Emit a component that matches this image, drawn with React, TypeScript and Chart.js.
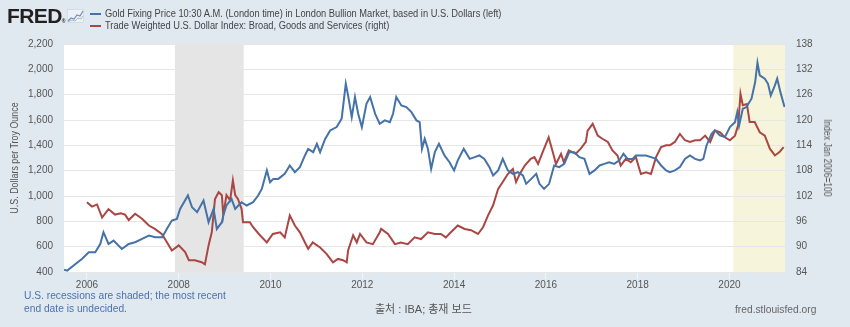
import React, { useEffect, useRef } from 'react';
import { Chart, registerables } from 'chart.js';

Chart.register(...registerables);

// ---------- DATA ----------
const goldYears = [
  2005.5, 2005.57, 2005.75, 2005.89, 2006.04, 2006.18, 2006.29, 2006.36, 2006.47, 2006.58,
  2006.76, 2006.91, 2007.05, 2007.2, 2007.35, 2007.49, 2007.64, 2007.74, 2007.85, 2007.96,
  2008.03, 2008.2, 2008.29, 2008.4, 2008.54, 2008.65, 2008.76, 2008.83, 2008.94, 2008.97,
  2009.04, 2009.15, 2009.23, 2009.3, 2009.37, 2009.48, 2009.62, 2009.73, 2009.81, 2009.92,
  2009.99, 2010.06, 2010.17, 2010.31, 2010.42, 2010.53, 2010.64, 2010.75, 2010.82, 2010.93,
  2011.01, 2011.08, 2011.19, 2011.3, 2011.44, 2011.55, 2011.64, 2011.69, 2011.77, 2011.84,
  2011.91, 2011.99, 2012.09, 2012.17, 2012.28, 2012.38, 2012.49, 2012.6, 2012.67, 2012.74,
  2012.85, 2012.96, 2013.07, 2013.18, 2013.25, 2013.3, 2013.36, 2013.43, 2013.5, 2013.58,
  2013.67, 2013.79, 2013.9, 2014.0, 2014.08, 2014.21, 2014.34, 2014.45, 2014.55, 2014.66,
  2014.77, 2014.85, 2014.96, 2015.06, 2015.17, 2015.28, 2015.39, 2015.5, 2015.57, 2015.68,
  2015.79, 2015.86, 2015.96, 2016.07, 2016.18, 2016.29, 2016.4, 2016.51, 2016.62, 2016.73,
  2016.84, 2016.95, 2017.06, 2017.17, 2017.27, 2017.38, 2017.49, 2017.6, 2017.69, 2017.78,
  2017.89, 2017.96, 2018.07, 2018.18, 2018.29, 2018.4, 2018.51, 2018.62, 2018.7, 2018.81,
  2018.92, 2019.03, 2019.14, 2019.25, 2019.36, 2019.43, 2019.5, 2019.61, 2019.68, 2019.79,
  2019.9, 2020.01, 2020.12, 2020.17, 2020.21, 2020.29, 2020.37, 2020.48, 2020.56, 2020.61,
  2020.66, 2020.77, 2020.84, 2020.9, 2020.99, 2021.04, 2021.11, 2021.2,
];
const goldValues = [
  418, 411, 463, 503, 556, 556, 621, 714, 621, 648,
  582, 621, 635, 661, 688, 674, 674, 740, 806, 819,
  898, 1004, 911, 872, 964, 793, 898, 740, 793, 846,
  925, 977, 898, 925, 951, 925, 951, 1004, 1056, 1202,
  1109, 1135, 1135, 1175, 1241, 1188, 1228, 1320, 1372, 1346,
  1412, 1346, 1451, 1518, 1544, 1610, 1886, 1794, 1623, 1781,
  1649, 1544, 1728, 1781, 1649, 1570, 1597, 1583, 1649, 1781,
  1715, 1702, 1662, 1597, 1583, 1372, 1451, 1372, 1214, 1346,
  1412, 1320, 1267, 1202, 1281, 1372, 1293, 1307, 1320, 1293,
  1228, 1162, 1202, 1293, 1202, 1175, 1188, 1162, 1096, 1135,
  1175, 1096, 1056, 1096, 1241, 1228, 1254, 1346, 1346, 1307,
  1293, 1175, 1202, 1241, 1254, 1267, 1254, 1281, 1333, 1293,
  1293, 1320, 1320, 1320, 1307, 1293, 1241, 1202, 1188, 1202,
  1228, 1293, 1320, 1293, 1281, 1293, 1399, 1491, 1518, 1478,
  1465, 1544, 1583, 1662, 1557, 1689, 1702, 1768, 1900, 2052,
  1953, 1926, 1886, 1794, 1873, 1926, 1820, 1702,
];

const dollarYears = [
  2006.0, 2006.11, 2006.22, 2006.33, 2006.47, 2006.61, 2006.74, 2006.83, 2006.91, 2007.05,
  2007.2, 2007.35, 2007.48, 2007.63, 2007.7, 2007.85, 2008.0, 2008.14, 2008.22, 2008.35,
  2008.5, 2008.57, 2008.65, 2008.72, 2008.79, 2008.87, 2008.94, 2008.97, 2009.04, 2009.12,
  2009.18, 2009.23, 2009.29, 2009.37, 2009.4, 2009.55, 2009.62, 2009.77, 2009.92, 2010.05,
  2010.21, 2010.31, 2010.42, 2010.53, 2010.64, 2010.75, 2010.82, 2010.92, 2011.08, 2011.22,
  2011.36, 2011.47, 2011.58, 2011.66, 2011.69, 2011.8, 2011.88, 2011.95, 2012.09, 2012.23,
  2012.38, 2012.41, 2012.56, 2012.71, 2012.84, 2012.99, 2013.14, 2013.28, 2013.43, 2013.58,
  2013.71, 2013.82, 2013.93, 2014.08, 2014.23, 2014.37, 2014.52, 2014.63, 2014.74, 2014.85,
  2014.96, 2015.06, 2015.17, 2015.28, 2015.35, 2015.43, 2015.54, 2015.67, 2015.75, 2015.83,
  2015.93, 2016.06, 2016.15, 2016.22, 2016.33, 2016.39, 2016.5, 2016.65, 2016.76, 2016.87,
  2016.91, 2017.02, 2017.13, 2017.24, 2017.35, 2017.45, 2017.56, 2017.63, 2017.74, 2017.85,
  2017.96, 2018.07, 2018.18, 2018.29, 2018.4, 2018.51, 2018.62, 2018.7, 2018.81, 2018.92,
  2019.03, 2019.14, 2019.25, 2019.36, 2019.47, 2019.58, 2019.68, 2019.79, 2019.9, 2020.01,
  2020.12, 2020.19, 2020.24, 2020.29, 2020.38, 2020.44, 2020.55, 2020.66, 2020.77, 2020.88,
  2020.99, 2021.09, 2021.18,
];
const dollarValues = [
  100.5, 99.5, 100, 96.9, 98.9, 97.6, 97.9, 97.6, 96.3, 97.8,
  96.6, 95, 94.2, 93, 91.8, 89.1, 90.3, 88.7, 86.8, 86.8,
  86.3, 85.8, 90.3, 93.4, 101.3, 102.9, 102.2, 97.4, 102.2, 101,
  105.7, 102.2, 101.3, 98.9, 95.8, 95.8, 94.6, 92.7, 91, 93,
  93.4, 92.2, 97.4, 95, 93.4, 91, 89.5, 91, 89.8, 88.3,
  86.3, 87.1, 86.8, 86.3, 89.1, 92.7, 91, 93, 91, 90.6,
  93.4, 94.2, 93, 90.6, 91, 90.6, 92.2, 91.8, 93.4, 93,
  93, 92.2, 93.4, 95, 94.2, 93.9, 93, 94.6, 97.4, 99.8,
  103.7, 105.3, 107.2, 108.4, 105.3, 107.2, 109.2, 110.8, 111.2, 109.6,
  112.4, 115.9, 112.4, 109.6, 112, 110, 112.8, 112, 113.2, 114.8,
  117.5, 119.1, 116.3, 115.5, 114.8, 112.8, 111.6, 109.2, 110.8, 110,
  111.2, 107.2, 107.6, 107.2, 111.2, 113.6, 114, 114, 114.8, 116.7,
  115.2, 114.8, 115.2, 115.2, 116.3, 114.8, 117.5, 117.1, 115.9, 115.2,
  116.3, 118.8, 126.2, 123.5, 123.8, 119.5, 119.5, 117.1, 116.3, 113.2,
  111.6, 112.4, 113.6,
];

const recessionStarts = [2007.917, 2020.083];
const recessionEnds: (number | null)[] = [2009.414, null]; // null = end date undecided

const xTickYears = [2006, 2008, 2010, 2012, 2014, 2016, 2018, 2020];
const leftTicks = [400, 600, 800, 1000, 1200, 1400, 1600, 1800, 2000, 2200];
const rightTicks = [84, 90, 96, 102, 108, 114, 120, 126, 132, 138];

const goldLabel = 'Gold Fixing Price 10:30 A.M. (London time) in London Bullion Market, based in U.S. Dollars (left)';
const dollarLabel = 'Trade Weighted U.S. Dollar Index: Broad, Goods and Services (right)';
const leftTitle = 'U.S. Dollars per Troy Ounce';
const rightTitle = 'Index Jan 2006=100';

// ---------- STYLE ----------
const SANS = '"Liberation Sans", Arial, sans-serif';
const BLUE = '#4572a7';
const RED = '#aa4643';
const PAGE_BG = '#e1e9f0';

const shadePlugin = {
  id: 'recessionShade',
  beforeDraw(chart: any) {
    const { ctx, chartArea: a, scales } = chart;
    const x = scales.x;
    ctx.save();
    ctx.fillStyle = '#ffffff';
    ctx.fillRect(a.left, a.top, a.right - a.left, a.bottom - a.top);
    recessionStarts.forEach((s, i) => {
      const end = recessionEnds[i];
      const x0 = Math.max(a.left, x.getPixelForValue(s));
      const x1 = end == null ? a.right : Math.min(a.right, x.getPixelForValue(end));
      ctx.fillStyle = end == null ? '#f6f5dc' : '#e5e5e5';
      ctx.fillRect(x0, a.top, x1 - x0, a.bottom - a.top);
    });
    ctx.restore();
  },
};

export default function App() {
  const canvasRef = useRef<HTMLCanvasElement | null>(null);

  useEffect(() => {
    if (!canvasRef.current) return;
    const gold = goldYears.map((t, i) => ({ x: t, y: goldValues[i] }));
    const dollar = dollarYears.map((t, i) => ({ x: t, y: dollarValues[i] }));
    const tickFont = { family: SANS, size: 10 };
    const chart = new Chart(canvasRef.current, {
      type: 'line',
      data: {
        datasets: [
          { label: goldLabel, data: gold, yAxisID: 'y', borderColor: BLUE, borderWidth: 2, pointRadius: 0, tension: 0 },
          { label: dollarLabel, data: dollar, yAxisID: 'y1', borderColor: RED, borderWidth: 2, pointRadius: 0, tension: 0 },
        ],
      },
      options: {
        responsive: false,
        animation: false,
        events: [],
        layout: { padding: { top: 44, bottom: 35, left: 0, right: 0 } },
        plugins: { legend: { display: false }, tooltip: { enabled: false } },
        scales: {
          x: {
            type: 'linear',
            min: 2005.5,
            max: 2021.21,
            afterBuildTicks: (s: any) => {
              s.ticks = xTickYears.map((v) => ({ value: v }));
            },
            afterFit: (s: any) => {
              s.height = 20;
            },
            border: { display: false },
            grid: { drawOnChartArea: false, drawTicks: true, tickLength: 7, color: '#f3f5f7', lineWidth: 1 },
            ticks: {
              autoSkip: false,
              maxRotation: 0,
              padding: 0,
              color: '#555',
              font: tickFont,
              callback: (v: any) => String(Math.round(Number(v))),
            },
          },
          y: {
            type: 'linear',
            position: 'left',
            min: 400,
            max: 2200,
            afterBuildTicks: (s: any) => {
              s.ticks = leftTicks.map((v) => ({ value: v }));
            },
            afterFit: (s: any) => {
              s.width = 64;
            },
            border: { display: false },
            grid: { color: '#e6e6e6', lineWidth: 1, drawTicks: false },
            ticks: { padding: 11, color: '#555', font: tickFont, callback: (v: any) => Number(v).toLocaleString('en-US') },
          },
          y1: {
            type: 'linear',
            position: 'right',
            min: 84,
            max: 138,
            afterBuildTicks: (s: any) => {
              s.ticks = rightTicks.map((v) => ({ value: v }));
            },
            afterFit: (s: any) => {
              s.width = 65;
            },
            border: { display: false },
            grid: { display: false, drawOnChartArea: false, drawTicks: false },
            ticks: { padding: 11, color: '#555', font: tickFont, callback: (v: any) => String(v) },
          },
        },
      },
      plugins: [shadePlugin],
    } as any);
    return () => chart.destroy();
  }, []);

  const abs = (s: React.CSSProperties): React.CSSProperties => ({ position: 'absolute', whiteSpace: 'nowrap', ...s });
  const narrow = (k: number): React.CSSProperties => ({ transform: `scaleX(${k})`, transformOrigin: 'left center' });

  return (
    <div style={{ position: 'absolute', left: 0, top: 0, width: 850, height: 327, background: PAGE_BG, overflow: 'hidden', fontFamily: SANS }}>
      <canvas ref={canvasRef} width={850} height={327} style={{ position: 'absolute', left: 0, top: 0, width: 850, height: 327 }} />
      {/* axis titles */}
      <div style={abs({ left: 15, top: 158, fontSize: 10, lineHeight: '12px', color: '#555', transform: 'translate(-50%, -50%) rotate(-90deg) scaleX(0.89)' })}>
        {leftTitle}
      </div>
      <div style={abs({ left: 827, top: 158, fontSize: 10, lineHeight: '12px', color: '#555', transform: 'translate(-50%, -50%) rotate(90deg) scaleX(0.85)' })}>
        {rightTitle}
      </div>
      {/* FRED logo */}
      <div style={abs({ left: 7, top: 5, fontWeight: 900, fontSize: 21, lineHeight: '21px', color: '#231f20', letterSpacing: -0.6 })}>
        FRED<span style={{ fontSize: 5, letterSpacing: 0 }}>®</span>
      </div>
      <svg style={{ position: 'absolute', left: 67, top: 9 }} width={17} height={14} viewBox="0 0 17 14">
        <rect x={0.5} y={0.5} width={16} height={13} fill="#eef2f6" stroke="#c9d3dd" strokeWidth={0.6} />
        <polyline points="1,12 4,9 7,10 10,6 13,7 16,2" fill="none" stroke="#6d8fbf" strokeWidth={1.2} />
        <polyline points="1,13 5,11 8,12 11,9 14,10 16,7" fill="none" stroke="#a9b9cc" strokeWidth={1} />
      </svg>
      {/* legend */}
      <div style={abs({ left: 90, top: 13, width: 11, height: 2, background: BLUE })} />
      <div style={abs({ left: 105, top: 8, fontSize: 10, lineHeight: '12px', color: '#444', ...narrow(0.93) })}>{goldLabel}</div>
      <div style={abs({ left: 90, top: 24.5, width: 11, height: 2, background: RED })} />
      <div style={abs({ left: 105, top: 19.5, fontSize: 10, lineHeight: '12px', color: '#444', ...narrow(0.93) })}>{dollarLabel}</div>
      {/* footer */}
      <div style={abs({ left: 24, top: 289, fontSize: 11, lineHeight: '12.5px', color: '#4a72ad', ...narrow(0.93) })}>
        U.S. recessions are shaded; the most recent
        <br />
        end date is undecided.
      </div>
      <div style={abs({ left: 375, top: 302, fontSize: 11, lineHeight: '14px', color: '#555', fontFamily: SANS + ', "Noto Sans CJK KR"' })}>
        출처 : IBA; 총재 보드
      </div>
      <div style={abs({ left: 735, top: 302, fontSize: 11, lineHeight: '14px', color: '#666', ...narrow(0.93) })}>fred.stlouisfed.org</div>
    </div>
  );
}
